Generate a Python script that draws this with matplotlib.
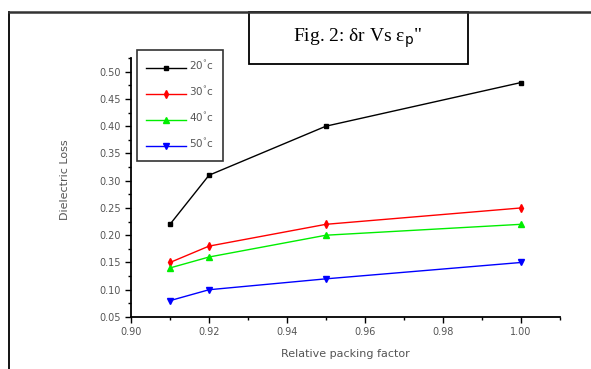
import numpy as np
import matplotlib.pyplot as plt
from matplotlib.ticker import MultipleLocator
from matplotlib.patches import Rectangle
from matplotlib.lines import Line2D

# Data
packing = [0.91, 0.92, 0.95, 1.00]
loss_20 = [0.22, 0.31, 0.40, 0.48]
loss_30 = [0.15, 0.18, 0.22, 0.25]
loss_40 = [0.14, 0.16, 0.20, 0.22]
loss_50 = [0.08, 0.10, 0.12, 0.15]
labels = ['20$^{\\degree}$c', '30$^{\\degree}$c', '40$^{\\degree}$c', '50$^{\\degree}$c']

fig = plt.figure(figsize=(5.91, 3.69), dpi=100)
ax = fig.add_axes([131 / 591, 1 - 317 / 369, (560 - 131) / 591, (317 - 58) / 369])

ax.plot(packing, loss_20, color='black', marker='s', ms=3.5, lw=1, label=labels[0])
ax.plot(packing, loss_30, color='red', marker='d', ms=4, lw=1, label=labels[1])
ax.plot(packing, loss_40, color='#00ee00', marker='^', ms=5, lw=1, label=labels[2])
ax.plot(packing, loss_50, color='blue', marker='v', ms=5, lw=1, label=labels[3])

ax.set_xlim(0.90, 1.01)
ax.set_ylim(0.05, 0.525)
ax.xaxis.set_major_locator(MultipleLocator(0.02))
ax.xaxis.set_minor_locator(MultipleLocator(0.01))
ax.yaxis.set_major_locator(MultipleLocator(0.05))
ax.yaxis.set_minor_locator(MultipleLocator(0.025))
ax.xaxis.set_major_formatter(plt.FormatStrFormatter('%.2f'))
ax.yaxis.set_major_formatter(plt.FormatStrFormatter('%.2f'))
ax.tick_params(which='major', direction='out', length=4, width=1,
               labelsize=7, labelcolor='#555555')
ax.tick_params(which='minor', direction='out', length=2.5, width=1)
ax.spines['top'].set_visible(False)
ax.spines['right'].set_visible(False)
ax.spines['left'].set_linewidth(1.3)
ax.spines['bottom'].set_linewidth(1.3)

ax.set_xlabel('Relative packing factor', fontsize=8, color='#555555', labelpad=8)
fig.text(65 / 591, 1 - 180 / 369, 'Dielectric Loss', rotation=90, fontsize=8,
         color='#555555', ha='center', va='center')

leg = ax.legend(loc='upper left', bbox_to_anchor=(137 / 591, 1 - 50 / 369),
                bbox_transform=fig.transFigure, fontsize=7.5, frameon=True,
                fancybox=False, edgecolor='black', handlelength=3.8,
                borderpad=0.9, labelspacing=1.15, handletextpad=0.3,
                borderaxespad=0)
leg.get_frame().set_linewidth(1.2)
for t in leg.get_texts():
    t.set_color('#555555')

# outer frame and title box
fig.add_artist(Line2D([9 / 591, 9 / 591], [0, 1 - 12 / 369], color='black', lw=1.3))
fig.add_artist(Line2D([9 / 591, 1], [1 - 12 / 369, 1 - 12 / 369], color='#333333', lw=1.8))
fig.add_artist(Rectangle((249 / 591, 1 - 64 / 369), (468 - 249) / 591, 52 / 369,
                         transform=fig.transFigure, fill=False, edgecolor='black', lw=1.3))
fig.text(358 / 591, 1 - 38 / 369, "Fig. 2: \u03b4r Vs \u03b5$_\\mathrm{p}$\"",
         family='Liberation Serif', fontsize=14, ha='center', va='center')

fig.savefig('out.png', dpi=100)
